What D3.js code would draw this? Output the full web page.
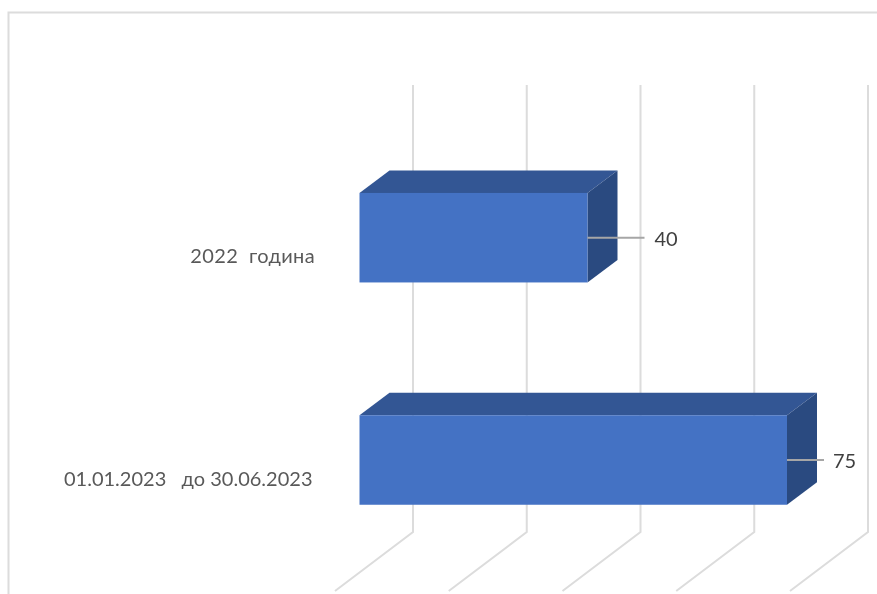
<!DOCTYPE html>
<html>
<head>
<meta charset="utf-8">
<script src="https://cdnjs.cloudflare.com/ajax/libs/d3/7.8.5/d3.min.js"></script>
<style>
html,body{margin:0;padding:0;background:#fff;overflow:hidden}
svg{display:block;filter:blur(0.35px)}
text{font-family:Lato,"Open Sans","Noto Sans",sans-serif;white-space:pre}
</style>
</head>
<body>
<div id="chart"></div>
<script>
const categories = ["2022  година", "01.01.2023   до 30.06.2023"];
const values = [40, 75];
const tickValues = [0, 20, 40, 60, 80];

const W = 877, H = 594;
const dx = 30, dy = -22.5;          // 3D depth of a bar
const barH = 89.5;
const svg = d3.select("#chart").append("svg").attr("width", W).attr("height", H);

const xFront = d3.scaleLinear().domain([0, 80]).range([359.5, 815.5]);
const xWall  = d3.scaleLinear().domain([0, 80]).range([413, 868]);
const yMid   = d3.scalePoint().domain(categories).range([237.7, 460]);

// chart frame
svg.append("path")
  .attr("d", `M8.5,${H}V12.5H${W}`)
  .attr("fill", "none").attr("stroke", "#dcdcdc").attr("stroke-width", 2);

// gridlines: wall plus floor
const wallTop = 85, wallBottom = 532, floorDx = -78, floorDy = 59;
svg.append("g").selectAll("path").data(tickValues).join("path")
  .attr("d", d => `M${xWall(d)},${wallTop}V${wallBottom}l${floorDx},${floorDy}`)
  .attr("fill", "none").attr("stroke", "#dcdcdc").attr("stroke-width", 2);

// bars
const data = categories.map((c, i) => ({c, v: values[i]}));
const bars = svg.append("g").selectAll("g").data(data).join("g");
const barTop = d => yMid(d.c) - barH / 2;

bars.append("path").attr("fill", "#335694")
  .attr("d", d => `M${xFront(0)},${barTop(d)}l${dx},${dy}H${xFront(d.v) + dx}l${-dx},${-dy}Z`);
bars.append("path").attr("fill", "#2a4a80")
  .attr("d", d => `M${xFront(d.v)},${barTop(d)}l${dx},${dy}v${barH}l${-dx},${-dy}Z`);
bars.append("rect").attr("fill", "#4472c4")
  .attr("x", xFront(0)).attr("y", barTop)
  .attr("width", d => xFront(d.v) - xFront(0)).attr("height", barH);

// leader lines and value labels
const leaderLen = [57, 37], labelGap = [10, 9];
bars.append("line")
  .attr("x1", d => xFront(d.v)).attr("x2", (d, i) => xFront(d.v) + leaderLen[i])
  .attr("y1", d => yMid(d.c)).attr("y2", d => yMid(d.c))
  .attr("stroke", "#a6a6a6").attr("stroke-width", 2);
bars.append("text")
  .attr("x", (d, i) => xFront(d.v) + leaderLen[i] + labelGap[i])
  .attr("y", d => yMid(d.c) + 8)
  .attr("font-size", 20).attr("fill", "#404040")
  .text(d => d.v);

// category labels
const labelRight = [315, 312.5], labelSpacing = [0.35, 0];
bars.append("text")
  .attr("x", (d, i) => labelRight[i]).attr("y", d => yMid(d.c) + 25.5)
  .attr("text-anchor", "end")
  .attr("letter-spacing", (d, i) => labelSpacing[i])
  .attr("font-size", 20).attr("fill", "#595959")
  .text(d => d.c);
</script>
</body>
</html>
